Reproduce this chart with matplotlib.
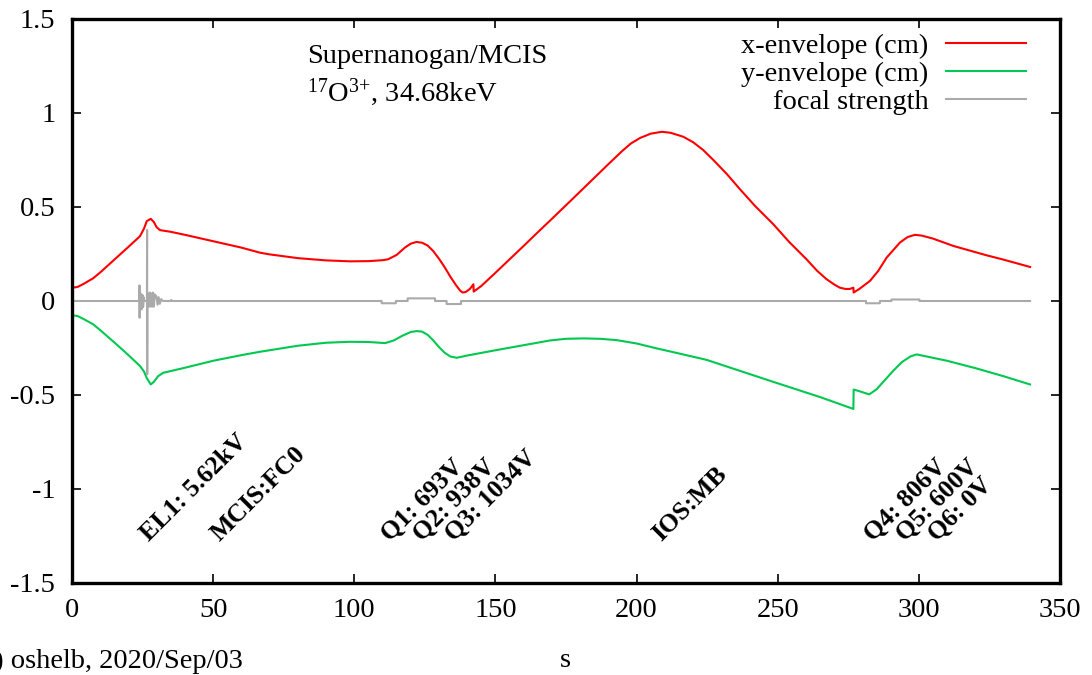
import matplotlib
matplotlib.use("Agg")
import matplotlib.pyplot as plt

# ---- data ----
x_s = [0, 2, 4, 7.5, 10, 15.8, 20, 24.1, 25.5, 26.5, 27.9, 29, 30, 31.2, 35, 40, 50, 60,
       66.6, 70, 80, 90, 98.5, 105, 110, 112, 115, 118, 120, 122, 124, 126, 128, 130,
       132, 134, 136, 137.5, 138.4, 139.5, 141, 142.2, 142.3, 145, 150, 160, 165.8,
       170, 177.6, 180, 189.4, 194.7, 198, 201.2, 205, 208.9, 212, 216.5, 220, 223.6,
       227.2, 232, 236.6, 242, 248.4, 254, 260.2, 264, 267.3, 270, 272, 274, 275.5,
       276.8, 276.9, 279, 282.7, 285.6, 288.6, 293.3, 296, 298.6, 301, 305, 312.2,
       324, 330, 339.4]
x_env = [0.070, 0.075, 0.090, 0.121, 0.152, 0.231, 0.288, 0.345, 0.385, 0.425, 0.437,
         0.420, 0.392, 0.377, 0.368, 0.352, 0.318, 0.284, 0.257, 0.248, 0.228, 0.216,
         0.211, 0.212, 0.217, 0.222, 0.245, 0.285, 0.305, 0.314, 0.310, 0.295, 0.265,
         0.225, 0.180, 0.130, 0.085, 0.055, 0.045, 0.048, 0.065, 0.089, 0.050, 0.080,
         0.150, 0.293, 0.377, 0.437, 0.547, 0.582, 0.719, 0.795, 0.838, 0.867, 0.890,
         0.900, 0.895, 0.874, 0.845, 0.803, 0.750, 0.675, 0.595, 0.505, 0.409, 0.315,
         0.222, 0.160, 0.116, 0.088, 0.071, 0.064, 0.064, 0.071, 0.045, 0.065, 0.107,
         0.160, 0.231, 0.311, 0.340, 0.352, 0.348, 0.332, 0.293, 0.243, 0.220, 0.181]

y_s = [0, 2, 4, 7.5, 10, 15.8, 20, 24.1, 25.5, 26.5, 27.9, 29, 30.5, 32.3, 40, 50, 60,
       66.6, 80, 90, 98.5, 105, 110.9, 114, 117, 120, 122.1, 124, 126, 128, 130, 132,
       134, 136.3, 140, 150, 160, 169.3, 175, 181.1, 187, 192.9, 200, 207.1, 215, 224.8,
       248.4, 265, 276.8, 276.9, 279, 282.4, 285, 288, 291, 294, 297, 299.2, 310, 320,
       330, 339.4]
y_env = [-0.075, -0.080, -0.095, -0.124, -0.155, -0.231, -0.288, -0.346, -0.375,
         -0.410, -0.444, -0.430, -0.400, -0.382, -0.355, -0.318, -0.288, -0.270, -0.238,
         -0.222, -0.217, -0.218, -0.224, -0.210, -0.185, -0.165, -0.160, -0.163, -0.180,
         -0.210, -0.245, -0.275, -0.295, -0.302, -0.290, -0.262, -0.235, -0.210, -0.201,
         -0.199, -0.201, -0.208, -0.226, -0.252, -0.279, -0.313, -0.430, -0.511, -0.574,
         -0.471, -0.480, -0.497, -0.470, -0.420, -0.370, -0.325, -0.295, -0.284, -0.318,
         -0.357, -0.400, -0.444]

f_s = [0, 23.85, 23.9, 23.95, 24.0, 24.2, 24.3, 24.5, 24.6, 24.8, 24.9, 25.1, 25.2,
       25.4, 25.6, 26.55, 26.6, 26.65, 26.7, 27.1, 27.2, 27.5, 27.8, 28.1, 28.4, 28.7,
       29.0, 29.3, 29.9, 30.3, 30.7, 31.1, 31.6, 32.2, 35.1, 35.2, 35.3, 109.7, 109.7,
       114.7, 114.7, 118.9, 118.9, 128.6, 128.6, 132.7, 132.7, 137.8, 137.8, 281.3,
       281.3, 286.2, 286.2, 290.3, 290.3, 300.2, 300.2, 339.4]
f_val = [0, 0, 0.083, -0.089, 0, 0.040, -0.040, 0.035, -0.045, 0.030, -0.035, 0.030,
         -0.030, 0.020, 0, 0, 0.378, -0.390, 0, 0.020, -0.030, 0.045, -0.030, 0.040,
         -0.030, 0.045, -0.030, 0.035, 0.025, -0.020, 0.020, -0.015, 0.010, 0, 0,
         0.006, 0, 0, -0.012, -0.012, 0, 0, 0.014, 0.014, 0, 0, -0.016, -0.016, 0, 0,
         -0.012, -0.012, 0, 0, 0.008, 0.008, 0, 0]

elem_names = ["EL1: 5.62kV", "MCIS:FC0", "Q1: 693V", "Q2: 938V", "Q3: 1034V",
              "IOS:MB", "Q4: 806V", "Q5: 600V", "Q6: 0V"]
elem_s = [27.4, 52.4, 112.8, 124.1, 135.3, 208.8, 283.8, 295.1, 306.3]

x_ticks = [0, 50, 100, 150, 200, 250, 300, 350]
y_ticks = [-1.5, -1, -0.5, 0, 0.5, 1, 1.5]
y_tick_labels = ["-1.5", "-1", "-0.5", "0", "0.5", "1", "1.5"]

# ---- styling ----
FS = 20.5
LFS = 18.5
plt.rcParams['font.family'] = ['Liberation Serif', 'DejaVu Serif']
plt.rcParams['mathtext.fontset'] = 'custom'
plt.rcParams['mathtext.rm'] = 'Liberation Serif'
plt.rcParams['mathtext.it'] = 'Liberation Serif:italic'
plt.rcParams['mathtext.bf'] = 'Liberation Serif:bold'
plt.rcParams['font.size'] = FS

W, H = 1092, 675
fig = plt.figure(figsize=(W / 100, H / 100), dpi=100)
ax = fig.add_axes([72 / W, (H - 583) / H, 988 / W, 564 / H])

red = '#ff0000'
green = '#00c850'
gray = '#aaaaaa'

ax.plot(x_s, x_env, color=red, lw=1.5, label='x-envelope (cm)')
ax.plot(y_s, y_env, color=green, lw=1.5, label='y-envelope (cm)')
ax.plot(f_s, f_val, color=gray, lw=1.5, label='focal strength')

ax.set_xlim(0, 350)
ax.set_ylim(-1.5, 1.5)
ax.set_xticks(x_ticks)
ax.set_yticks(y_ticks)
ax.set_yticklabels(y_tick_labels)
ax.tick_params(direction='in', length=6.5, width=1.2, top=True, right=True,
               labelsize=FS)
ax.tick_params(axis='y', pad=12)
ax.tick_params(axis='x', pad=11)
for sp in ax.spines.values():
    sp.set_linewidth(2.4)

for name, s in zip(elem_names, elem_s):
    ax.text(s, -1.28, name, rotation=45, rotation_mode='anchor', ha='left',
            va='baseline', fontweight='bold', fontsize=LFS)

leg = ax.legend(loc='upper right', bbox_to_anchor=(1026 / W, 1 - 33 / H),
                bbox_transform=fig.transFigure, frameon=False, markerfirst=False,
                handlelength=2.8, handletextpad=0.62, labelspacing=0.08,
                borderaxespad=0, borderpad=0, fontsize=FS)

fig.text(307 / W, 1 - 63 / H, 'Supernanogan/MCIS', fontsize=FS, va='baseline', ha='left')
fig.text(307 / W, 1 - 101 / H, r'$^{17}$O$^{3{+}}$, 34.68keV', fontsize=FS,
         va='baseline', ha='left')

fig.text(565 / W, 1 - 667 / H, 's', fontsize=FS, ha='center', va='baseline')
fig.text(243 / W, 1 - 668 / H, '(c) oshelb, 2020/Sep/03', fontsize=FS, ha='right',
         va='baseline')

fig.savefig('out.png', dpi=100)
